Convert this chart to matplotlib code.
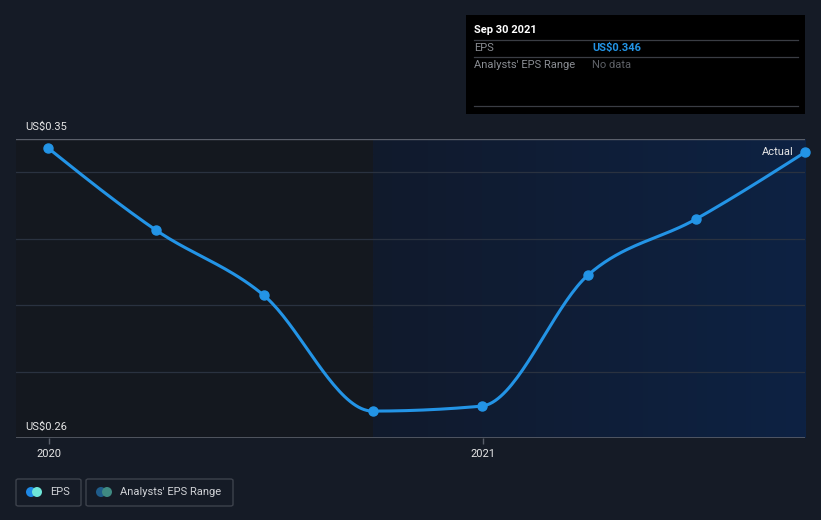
import numpy as np
import matplotlib.pyplot as plt
import matplotlib.dates as mdates
from matplotlib.patches import Rectangle, FancyBboxPatch, Ellipse
from matplotlib.colors import LinearSegmentedColormap
import datetime as dt

plt.rcParams['font.family'] = ['Roboto', 'DejaVu Sans']

# data
dates = ['2019-12-31', '2020-03-31', '2020-06-30', '2020-09-30',
         '2020-12-31', '2021-03-31', '2021-06-30', '2021-09-30']
eps = [0.3473, 0.3226, 0.3030, 0.2681, 0.2696, 0.3091, 0.3259, 0.346]
forecast_start = '2020-09-30'
y_ticks = [0.26, 0.28, 0.30, 0.32, 0.34]

bg = '#151b26'
line_col = '#2394e6'

x = mdates.date2num([dt.datetime.fromisoformat(d) for d in dates])
y = np.array(eps)


def monotone(xs, ys, n=40):
    # monotone cubic (like d3 curveMonotoneX)
    h = np.diff(xs)
    s = np.diff(ys) / h
    m = np.zeros(len(xs))
    for i in range(1, len(xs) - 1):
        if s[i - 1] * s[i] <= 0:
            m[i] = 0
        else:
            p = (s[i - 1] * h[i] + s[i] * h[i - 1]) / (h[i - 1] + h[i])
            m[i] = (np.sign(s[i - 1]) + np.sign(s[i])) * min(abs(s[i - 1]), abs(s[i]), 0.5 * abs(p))
    m[0] = (3 * s[0] - m[1]) / 2
    m[-1] = (3 * s[-1] - m[-2]) / 2
    ox, oy = [], []
    for i in range(len(xs) - 1):
        t = np.linspace(0, 1, n)
        h00 = 2 * t**3 - 3 * t**2 + 1
        h10 = t**3 - 2 * t**2 + t
        h01 = -2 * t**3 + 3 * t**2
        h11 = t**3 - t**2
        ox.extend(xs[i] + t * h[i])
        oy.extend(h00 * ys[i] + h10 * h[i] * m[i] + h01 * ys[i + 1] + h11 * h[i] * m[i + 1])
    return np.array(ox), np.array(oy)


fig = plt.figure(figsize=(8.21, 5.2), dpi=100, facecolor=bg)
ax = fig.add_axes([16 / 821, 1 - 438 / 520, (805 - 16) / 821, (438 - 139) / 520])
ax.set_facecolor('#14181f')

x_left = x[0] - 27
x_right = x[-1]

# forecast area, horizontal gradient
fs = mdates.date2num(dt.datetime.fromisoformat(forecast_start))
grad = LinearSegmentedColormap.from_list('g', ['#111a2c', '#0f1e38', '#0d2243'])
ax.imshow(np.linspace(0, 1, 256).reshape(1, -1), cmap=grad, aspect='auto',
          extent=[fs, x_right, 0.26, 0.35], zorder=0, interpolation='bilinear')

ax.set_xlim(x_left, x_right)
ax.set_ylim(0.26, 0.35)

for v in y_ticks[1:]:
    ax.axhline(v, color='#2a3240', lw=0.9, zorder=1)
ax.axhline(0.35, color='#5a5f6a', lw=1.0, zorder=2)
ax.axhline(0.26, color='#5a5f6a', lw=1.2, zorder=2)

sx, sy = monotone(x, y)
ax.plot(sx, sy, color=line_col, lw=2.2, zorder=4, solid_capstyle='round', clip_on=False)
ax.plot(x, y, 'o', color=line_col, ms=6.5, zorder=5, clip_on=False)

for s in ax.spines.values():
    s.set_visible(False)
ax.set_yticks([])
yr_ticks = mdates.date2num([dt.datetime(2020, 1, 1), dt.datetime(2021, 1, 1)])
ax.set_xticks(yr_ticks)
ax.set_xticklabels(['2020', '2021'])
ax.tick_params(axis='x', colors='#5a5f6a', labelcolor='#e6e6e6', length=4, width=1,
               labelsize=8, pad=4)

ax.text(25 / 821, 1 - 127 / 520, 'US$0.35', transform=fig.transFigure, color='#e6e6e6',
        fontsize=8, va='center', ha='left')
ax.text(25 / 821, 1 - 427 / 520, 'US$0.26', transform=fig.transFigure, color='#e6e6e6',
        fontsize=8, va='center', ha='left')
ax.annotate('Actual', (x[-1], y[-1]), xytext=(-8, 0), textcoords='offset points',
            color='#e6e6e6', fontsize=8, ha='right', va='center', zorder=6)

# tooltip
T = fig.transFigure
def fx(px):
    return px / 821
def fy(py):
    return 1 - py / 520

fig.patches.append(Rectangle((fx(466), fy(114)), fx(805) - fx(466), fy(15) - fy(114),
                             transform=T, facecolor='black', edgecolor='none', zorder=10))
for yy in (40, 57, 106):
    fig.add_artist(plt.Line2D([fx(474), fx(798)], [fy(yy), fy(yy)], transform=T,
                              color='#3a3d44', lw=0.9, zorder=11))
fig.text(fx(474), fy(30), 'Sep 30 2021', color='white', fontsize=8, fontweight='bold',
         va='center', zorder=12)
fig.text(fx(474), fy(48), 'EPS', color='#8a8d93', fontsize=8, va='center', zorder=12)
fig.text(fx(592), fy(48), 'US$0.346', color='#2394e6', fontsize=8, fontweight='bold',
         va='center', zorder=12)
fig.text(fx(474), fy(65), "Analysts' EPS Range", color='#8a8d93', fontsize=8, va='center', zorder=12)
fig.text(fx(592), fy(65), 'No data', color='#5e6167', fontsize=8, va='center', zorder=12)

# legend
legend_items = [('EPS', 16, 81, '#1e88e5', '#6ee6d8'),
                ("Analysts' EPS Range", 86, 233, '#1f5c8a', '#3f8a82')]
for label, x0, x1, c1, c2 in legend_items:
    fig.patches.append(FancyBboxPatch((fx(x0), fy(506)), fx(x1) - fx(x0), fy(479) - fy(506),
                                      boxstyle='round,pad=0,rounding_size=0.003',
                                      transform=T, facecolor='none', edgecolor='#3d424c',
                                      lw=1.0, zorder=10))
    fig.patches.append(Ellipse((fx(x0 + 15), fy(492)), 10 / 821, 10 / 520, transform=T,
                               facecolor=c1, edgecolor='none', zorder=11))
    fig.patches.append(Ellipse((fx(x0 + 21), fy(492)), 10 / 821, 10 / 520, transform=T,
                               facecolor=c2, edgecolor='none', zorder=12))
    fig.text(fx(x0 + 34), fy(492), label, color='#d0d2d6', fontsize=8, va='center', zorder=12)

fig.savefig('out.png', dpi=100, facecolor=bg)
